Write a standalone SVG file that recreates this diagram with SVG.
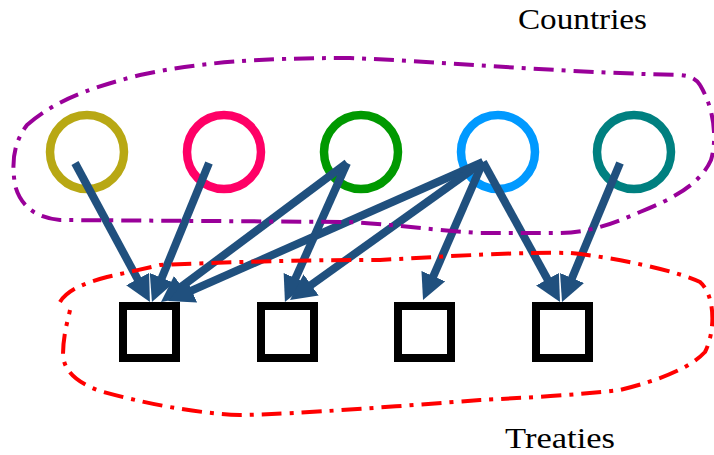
<svg xmlns="http://www.w3.org/2000/svg" width="714" height="455" viewBox="0 0 714 455">
  <style>
    .country { fill: none; stroke-width: 8.5; }
    .treaty { fill: none; stroke: #000000; stroke-width: 8; }
    .edge { stroke: #20507E; stroke-width: 8; fill: none; marker-end: url(#head); }
    .group { fill: none; stroke-width: 4; stroke-dasharray: 20 8 4 8; }
    .label { font-family: "Liberation Serif", "DejaVu Serif", serif; font-size: 29px; fill: #000000; }
  </style>
  <defs>
    <marker id="head" viewBox="0 0 26 26" refX="4" refY="13" markerWidth="26" markerHeight="26" markerUnits="userSpaceOnUse" orient="auto">
      <path d="M0,0 L26,13 L0,26 Z" fill="#20507E"/>
    </marker>
  </defs>
  <rect width="714" height="455" fill="#FFFFFF"/>

  <g id="country-1"><circle class="country" cx="87" cy="152" r="37" stroke="#B8A814"/></g>
  <g id="country-2"><circle class="country" cx="224" cy="152" r="37" stroke="#FF0066"/></g>
  <g id="country-3"><circle class="country" cx="361" cy="152" r="37" stroke="#009900"/></g>
  <g id="country-4"><circle class="country" cx="498" cy="152" r="37" stroke="#0099FF"/></g>
  <g id="country-5"><circle class="country" cx="634" cy="152" r="37" stroke="#008080"/></g>

  <g id="treaty-1"><rect class="treaty" x="123" y="306" width="53" height="52"/></g>
  <g id="treaty-2"><rect class="treaty" x="261" y="306" width="53" height="52"/></g>
  <g id="treaty-3"><rect class="treaty" x="398" y="306" width="53" height="52"/></g>
  <g id="treaty-4"><rect class="treaty" x="536" y="306" width="53" height="52"/></g>

  <g id="connectors">
    <line class="edge" x1="75" y1="163" x2="139.5" y2="282.6"/>
    <line class="edge" x1="209" y1="163" x2="160.3" y2="281.6"/>
    <line class="edge" x1="347" y1="163" x2="178.6" y2="288.8"/>
    <line class="edge" x1="483" y1="162" x2="188.1" y2="292.1"/>
    <line class="edge" x1="347" y1="163" x2="293.9" y2="281.9"/>
    <line class="edge" x1="483" y1="162" x2="307.9" y2="287.2"/>
    <line class="edge" x1="483" y1="162" x2="431.8" y2="279.8"/>
    <line class="edge" x1="483" y1="162" x2="549.4" y2="282.7"/>
    <line class="edge" x1="620" y1="163" x2="570.5" y2="281.7"/>
  </g>

  <g id="countries-group">
    <path class="group" stroke="#990099" d="M27,125 C50,105 80,90 140,75 C200,62 260,58 350,58 C450,62 550,72 680,75 Q695,76 700,85 C715,110 717,140 711,160 C700,185 670,200 640,212 C610,225 590,232 560,233 L480,233 C430,230 390,224 350,222 L60,220 C35,218 20,205 15,185 C12,165 12,145 27,125 Z"/>
  </g>
  <g id="treaties-group">
    <path class="group" stroke="#FF0000" d="M60,302 C66,292 80,284 107,277 L160,265 C250,261 320,260 380,260 C450,256 520,252 570,253 C620,258 680,272 700,282 C715,295 716,330 705,352 C690,368 660,380 620,390 C580,395 520,398 480,400 C400,406 300,414 240,415 C190,413 140,402 100,391 C75,382 64,370 63,355 C63,335 68,320 70,310"/>
  </g>

  <g id="label-countries"><text class="label" x="518" y="29" textLength="129" lengthAdjust="spacingAndGlyphs">Countries</text></g>
  <g id="label-treaties"><text class="label" x="505" y="448" textLength="110" lengthAdjust="spacingAndGlyphs">Treaties</text></g>
</svg>
